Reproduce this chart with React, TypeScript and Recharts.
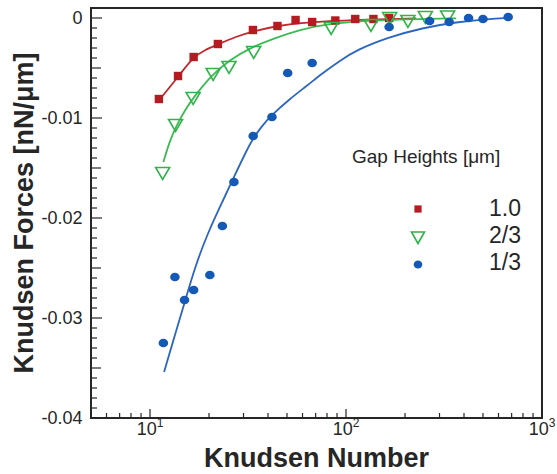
import React from 'react';
import {
  ComposedChart,
  Line,
  Scatter,
  XAxis,
  YAxis,
  ReferenceArea,
  Customized
} from 'recharts';

// gap heights [um]
const seriesNames = ['1.0', '2/3', '1/3'];
const colors = ['#b51c22', '#2fb34a', '#1559b6'];
const lineColors = ['#c0282e', '#3cba52', '#2c66bf'];

// measured points: Knudsen number vs force [nN/um]
const knRed = [11.1, 13.9, 16.7, 22.2, 33.5, 44.7, 55.3, 67.2, 88.2, 111.5, 138, 166];
const fRed = [-0.0081, -0.0058, -0.0039, -0.0026, -0.0012, -0.0008, -0.0002, -0.0004, -0.00025, -0.0001, -0.0001, 0];

const knGreen = [11.6, 13.5, 16.6, 21.0, 25.3, 33.8, 84, 134, 167, 207, 254, 330];
const fGreen = [-0.0155, -0.0107, -0.008, -0.0056, -0.0049, -0.0034, -0.001, -0.0007, 0, -0.0003, 0.0001, 0.00015];

const knBlue = [11.7, 13.4, 15.0, 16.7, 20.2, 23.4, 26.8, 33.6, 41.9, 50.4, 67.2, 166, 267, 336, 422, 500, 672];
const fBlue = [-0.0325, -0.0259, -0.0282, -0.0272, -0.0257, -0.0208, -0.0164, -0.0118, -0.0099, -0.0055, -0.0045, -0.0009, -0.0003, -0.0004, 0, -0.0001, 0.0001];

// fitted curves
const fitRedKn = [11.15, 13.9, 16.6, 19.05, 22.2, 27.1, 33.8, 45.9, 58, 82.4, 117, 228];
const fitRedF = [-0.0082, -0.0059, -0.0039, -0.0032, -0.00265, -0.0019, -0.0013, -0.00075, -0.0005, -0.0003, -0.0002, -0.00005];

const fitGreenKn = [11.7, 12.6, 13.7, 15.1, 16.6, 20.6, 25.5, 32.3, 43.3, 58, 75.9, 136, 245, 365];
const fitGreenF = [-0.0144, -0.0123, -0.0107, -0.0092, -0.008, -0.0057, -0.0042, -0.003, -0.002, -0.0012, -0.00065, -0.00022, -0.0001, -0.00003];

const fitBlueKn = [11.8, 13.4, 15.1, 16.9, 19.7, 23.5, 27.1, 30.5, 33.4, 37.2, 41.8, 51.6, 63, 75.9, 92.7, 113, 166, 245, 365, 538, 664];
const fitBlueF = [-0.0354, -0.0317, -0.0283, -0.025, -0.0215, -0.0183, -0.0157, -0.0136, -0.0121, -0.0108, -0.0097, -0.0081, -0.0068, -0.0055, -0.0043, -0.0032, -0.0019, -0.001, -0.0004, -0.0001, 0];

const xTicks = [6, 7, 8, 9, 10, 20, 30, 40, 50, 60, 70, 80, 90, 100, 200, 300, 400, 500, 600, 700, 800, 900, 1000];
const xMajor = [10, 100, 1000];
const xExp = ['1', '2', '3'];

const yTicks = [
  0, -0.001, -0.002, -0.003, -0.004, -0.005, -0.006, -0.007, -0.008, -0.009,
  -0.01, -0.011, -0.012, -0.013, -0.014, -0.015, -0.016, -0.017, -0.018, -0.019,
  -0.02, -0.021, -0.022, -0.023, -0.024, -0.025, -0.026, -0.027, -0.028, -0.029,
  -0.03, -0.031, -0.032, -0.033, -0.034, -0.035, -0.036, -0.037, -0.038, -0.039,
  -0.04
];
const yTickLabels = ['0', '-0.01', '-0.02', '-0.03', '-0.04'];

const zip = (kn: number[], f: number[]) => kn.map((k, i) => ({ kn: k, f: f[i] }));

const font = '"Liberation Sans", Arial, Helvetica, sans-serif';
const ink = '#262626';

const YTick = (props: any) => {
  const { x, y, payload } = props;
  const k = Math.round(-payload.value * 1000);
  const ax = x + 8.5;
  const len = k % 10 === 0 ? 11 : k % 5 === 0 ? 10 : 6;
  return (
    <g>
      <line x1={ax} x2={ax + len} y1={y} y2={y} stroke={ink} strokeWidth={1.2} />
      {k % 10 === 0 && (
        <text x={x} y={y} dy="0.36em" textAnchor="end" fontSize={18} fontFamily={font} fill={ink}>
          {yTickLabels[k / 10]}
        </text>
      )}
    </g>
  );
};

const XTick = (props: any) => {
  const { x, y, payload } = props;
  const idx = xMajor.indexOf(payload.value);
  const ay = y - 17;
  const len = idx >= 0 ? 9 : 5;
  return (
    <g>
      <line x1={x} x2={x} y1={ay} y2={ay - len} stroke={ink} strokeWidth={1.2} />
      {idx >= 0 && (
        <text x={x} y={y} textAnchor="middle" fontSize={18} fontFamily={font} fill={ink}>
          <tspan>10</tspan>
          <tspan dy={-8} fontSize={12}>{xExp[idx]}</tspan>
        </text>
      )}
    </g>
  );
};

const Square = (props: any) => {
  const { cx, cy } = props;
  return <rect x={cx - 4.2} y={cy - 4.2} width={8.4} height={8.4} fill={colors[0]} />;
};

const TriDown = (props: any) => {
  const { cx, cy } = props;
  return (
    <polygon
      points={`${cx - 7},${cy - 5.5} ${cx + 7},${cy - 5.5} ${cx},${cy + 6.5}`}
      fill="none"
      stroke={colors[1]}
      strokeWidth={1.6}
    />
  );
};

const Dot = (props: any) => {
  const { cx, cy } = props;
  return <ellipse cx={cx} cy={cy} rx={4.8} ry={4.3} fill={colors[2]} />;
};

const Annotations = () => {
  const markers = [
    <rect key="m0" x={418 - 3.6} y={209 - 3.6} width={7.2} height={7.2} fill={colors[0]} />,
    <polygon key="m1" points={`${418 - 6.5},${232} ${418 + 6.5},${232} ${418},${243.5}`} fill="none" stroke={colors[1]} strokeWidth={1.6} />,
    <ellipse key="m2" cx={418} cy={264.5} rx={4.3} ry={4} fill={colors[2]} />
  ];
  return (
    <g fontFamily={font} fill={ink}>
      <text x={33} y={213} transform="rotate(-90 33 213)" textAnchor="middle" fontSize={27} fontWeight="bold">
        Knudsen Forces [nN/μm]
      </text>
      <text x={316.5} y={467} textAnchor="middle" fontSize={27} fontWeight="bold">
        Knudsen Number
      </text>
      <text x={352} y={163} fontSize={19}>Gap Heights [μm]</text>
      {seriesNames.map((name, i) => (
        <g key={name}>
          {markers[i]}
          <text x={521} y={216 + i * 27} textAnchor="end" fontSize={23}>{name}</text>
        </g>
      ))}
    </g>
  );
};

export default function App() {
  return (
    <div style={{ position: 'absolute', left: 0, top: 0, background: '#fff' }}>
      <ComposedChart width={557} height={474} margin={{ top: 8, right: 15, left: 0, bottom: 0 }}>
        <XAxis
          dataKey="kn"
          type="number"
          scale="log"
          domain={[5, 1000]}
          allowDataOverflow
          ticks={xTicks}
          interval={0}
          height={56}
          tickSize={0}
          tickMargin={17}
          tick={<XTick />}
          axisLine={{ stroke: ink, strokeWidth: 2 }}
        />
        <YAxis
          type="number"
          domain={[-0.04, 0.001]}
          allowDataOverflow
          ticks={yTicks}
          interval={0}
          width={91}
          tickSize={0}
          tickMargin={8.5}
          tick={<YTick />}
          axisLine={{ stroke: ink, strokeWidth: 2 }}
        />
        <ReferenceArea x1={5} x2={1000} y1={-0.04} y2={0.001} fill="none" stroke={ink} strokeWidth={2} />
        <Line data={zip(fitRedKn, fitRedF)} dataKey="f" type="basis" stroke={lineColors[0]} strokeWidth={1.8} dot={false} isAnimationActive={false} />
        <Line data={zip(fitGreenKn, fitGreenF)} dataKey="f" type="basis" stroke={lineColors[1]} strokeWidth={1.8} dot={false} isAnimationActive={false} />
        <Line data={zip(fitBlueKn, fitBlueF)} dataKey="f" type="basis" stroke={lineColors[2]} strokeWidth={1.8} dot={false} isAnimationActive={false} />
        <Scatter name={seriesNames[0]} data={zip(knRed, fRed)} dataKey="f" shape={<Square />} isAnimationActive={false} />
        <Scatter name={seriesNames[1]} data={zip(knGreen, fGreen)} dataKey="f" shape={<TriDown />} isAnimationActive={false} />
        <Scatter name={seriesNames[2]} data={zip(knBlue, fBlue)} dataKey="f" shape={<Dot />} isAnimationActive={false} />
        <Customized component={<Annotations />} />
      </ComposedChart>
    </div>
  );
}
